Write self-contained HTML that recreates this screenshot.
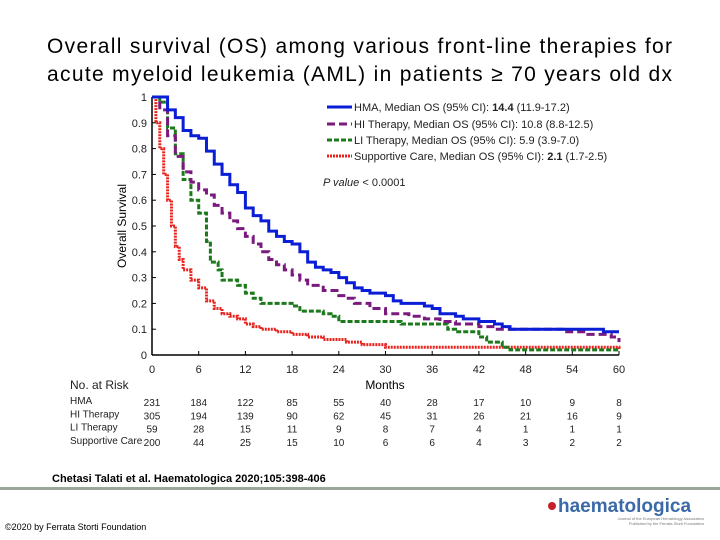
<!DOCTYPE html>
<html><head><meta charset="utf-8"><style>
body{margin:0;width:720px;height:540px;background:#fff;overflow:hidden;font-family:"Liberation Sans",sans-serif}
svg{position:absolute;left:0;top:0}
</style></head><body>
<svg width="720" height="540" id="svg">
<text x="47" y="53" font-size="21" textLength="625" lengthAdjust="spacing">Overall survival (OS) among various front-line therapies for</text>
<text x="47" y="81" font-size="21" textLength="625" lengthAdjust="spacing">acute myeloid leukemia (AML) in patients ≥ 70 years old dx</text>
<g id="axes"></g><g id="curves"></g>
<g font-size="11" fill="#222">
<line x1="327" y1="107" x2="352" y2="107" stroke="#0a1ed6" stroke-width="3"/><text x="354" y="111">HMA, Median OS (95% CI): <tspan font-weight="bold">14.4</tspan> (11.9-17.2)</text>
<line x1="327" y1="124" x2="352" y2="124" stroke="#7a1a7e" stroke-width="3" stroke-dasharray="8,4"/><text x="354" y="128">HI Therapy, Median OS (95% CI): 10.8 (8.8-12.5)</text>
<line x1="327" y1="140" x2="352" y2="140" stroke="#1c7a1c" stroke-width="3" stroke-dasharray="5,2"/><text x="354" y="144">LI Therapy, Median OS (95% CI): 5.9 (3.9-7.0)</text>
<line x1="327" y1="156" x2="352" y2="156" stroke="#e8231e" stroke-width="3" stroke-dasharray="2,1"/><text x="354" y="160">Supportive Care, Median OS (95% CI): <tspan font-weight="bold">2.1</tspan> (1.7-2.5)</text>
<text x="323" y="186"><tspan font-style="italic">P value</tspan>  &lt; 0.0001</text>
</g>
<text x="126" y="226" font-size="12" transform="rotate(-90 126 226)" text-anchor="middle">Overall Survival</text>
<text x="385" y="389" font-size="12" text-anchor="middle">Months</text>
<g id="risk" font-size="10" fill="#222"></g>
<text x="52" y="482" font-size="11" font-weight="bold">Chetasi Talati et al. Haematologica 2020;105:398-406</text>
<rect x="0" y="487" width="720" height="3" fill="#9ba79b"/>
<text x="5" y="530" font-size="9">©2020 by Ferrata Storti Foundation</text>
<g>
<circle cx="552" cy="506" r="4" fill="#c8202a"/>
<text x="558" y="512" font-size="19" font-weight="bold" fill="#3a6aa8">haematologica</text>
<text x="704" y="520" font-size="4" text-anchor="end" fill="#777">Journal of the European Hematology Association</text>
<text x="704" y="525" font-size="4" text-anchor="end" fill="#777">Published by the Ferrata Storti Foundation</text>
</g>
</svg>
<script>
const xTicks=[0,6,12,18,24,30,36,42,48,54,60];
const yTicks=[0,0.1,0.2,0.3,0.4,0.5,0.6,0.7,0.8,0.9,1];
const hmaT=[0,1,2,3,4,5,6,7,8,9,10,11,12,13,14,15,16,17,18,19,20,21,22,23,24,25,26,27,28,30,31,32,35,36,37,39,40,42,44,45,46,58,60];
const hmaS=[1,1,0.95,0.92,0.87,0.85,0.84,0.79,0.74,0.70,0.66,0.63,0.57,0.54,0.52,0.48,0.46,0.44,0.43,0.40,0.36,0.34,0.33,0.32,0.30,0.28,0.26,0.25,0.24,0.23,0.21,0.20,0.19,0.18,0.16,0.15,0.14,0.13,0.12,0.11,0.10,0.09,0.09];
const hiT=[0,1,2,3,4,5,6,7,8,9,10,11,12,13,14,15,16,17,18,19,20,22,24,25,26,28,30,33,35,37,39,42,44,53,56,59,60];
const hiS=[1,0.95,0.85,0.77,0.71,0.67,0.64,0.62,0.58,0.55,0.52,0.49,0.46,0.43,0.40,0.37,0.35,0.33,0.31,0.29,0.27,0.25,0.23,0.22,0.20,0.18,0.16,0.15,0.14,0.13,0.12,0.11,0.10,0.09,0.08,0.07,0.05];
const liT=[0,1,2,3,4,5,6,7,7.5,8.5,9,11,12,13,14,18,19,22,23,24,32,38,39,42,43,45,46,60];
const liS=[1,0.98,0.88,0.78,0.68,0.60,0.55,0.44,0.36,0.33,0.29,0.27,0.24,0.22,0.20,0.19,0.17,0.16,0.15,0.13,0.12,0.10,0.09,0.07,0.05,0.03,0.02,0.02];
const scT=[0,0.5,1,1.5,2,2.5,3,3.5,4,5,6,7,8,9,10,11,12,13,14,16,18,20,22,25,27,30,45,60];
const scS=[1,0.9,0.8,0.7,0.6,0.5,0.42,0.37,0.33,0.29,0.26,0.21,0.18,0.16,0.15,0.14,0.12,0.11,0.10,0.09,0.08,0.07,0.06,0.05,0.04,0.03,0.03,0.02];
const riskGroups=["HMA","HI Therapy","LI Therapy","Supportive Care"];
const riskHMA=[231,184,122,85,55,40,28,17,10,9,8];
const riskHI=[305,194,139,90,62,45,31,26,21,16,9];
const riskLI=[59,28,15,11,9,8,7,4,1,1,1];
const riskSC=[200,44,25,15,10,6,6,4,3,2,2];
const NS='http://www.w3.org/2000/svg';
const X=m=>152+m*(619-152)/60, Y=v=>355-v*(355-97);
function mk(t,a,p){const e=document.createElementNS(NS,t);for(const k in a)e.setAttribute(k,a[k]);p.appendChild(e);return e;}
const ax=document.getElementById('axes');
const xa=mk('line',{x1:X(0),y1:Y(0),x2:X(60),y2:Y(0),stroke:'#000','stroke-width':1.5},ax);


const ya=mk('line',{x1:X(0),y1:Y(0),x2:X(0),y2:Y(1),stroke:'#000','stroke-width':1.5},ax);


xTicks.forEach(t=>{mk('line',{x1:X(t),y1:Y(0),x2:X(t),y2:Y(0)-4,stroke:'#000'},ax);
const e=mk('text',{x:X(t),y:373,'font-size':11,'text-anchor':'middle',fill:'#222'},ax);e.textContent=t;

});
yTicks.forEach(t=>{mk('line',{x1:X(0),y1:Y(t),x2:X(0)+4,y2:Y(t),stroke:'#000'},ax);
const e=mk('text',{x:X(0)-5,y:Y(t)+4,'font-size':11,'text-anchor':'end',fill:'#222'},ax);e.textContent=t;

});
const cv=document.getElementById('curves');
function step(T,S,col,dash,name){let d='M'+X(T[0])+','+Y(S[0]);for(let i=1;i<T.length;i++){d+='H'+X(T[i])+'V'+Y(S[i]);}
const p=mk('path',{d:d,fill:'none',stroke:col,'stroke-width':3,'stroke-dasharray':dash},cv);

}
step(scT,scS,'#e8231e','2,1','curve-supportive-care');
step(liT,liS,'#1c7a1c','5,2','curve-li-therapy');
step(hiT,hiS,'#7a1a7e','8,4','curve-hi-therapy');
step(hmaT,hmaS,'#0a1ed6','none','curve-hma');
const rk=document.getElementById('risk');
const h=mk('text',{x:70,y:389,'font-size':12},rk);h.textContent='No. at Risk';


[riskHMA,riskHI,riskLI,riskSC].forEach((r,i)=>{const yy=404+i*13.3;
const l=mk('text',{x:70,y:yy},rk);l.textContent=riskGroups[i];


r.forEach((v,j)=>{const e=mk('text',{x:X(xTicks[j]),y:yy+2,'text-anchor':'middle'},rk);e.textContent=v;

});});
</script>
</body></html>
